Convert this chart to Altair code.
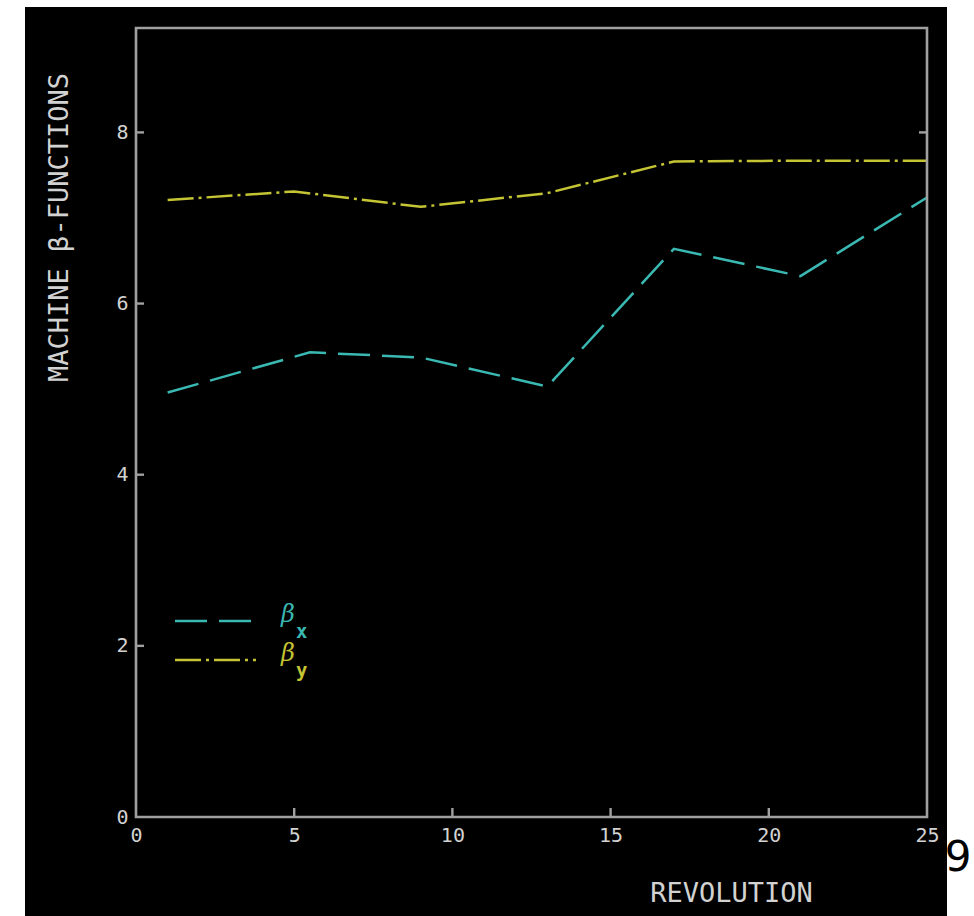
import altair as alt
import pandas as pd

# ---- data ----
rev_x = [1, 5.5, 9, 13, 17, 21, 25]
beta_x = [4.96, 5.43, 5.37, 5.03, 6.64, 6.32, 7.24]
rev_y = [1, 5, 9, 13, 17, 21, 25]
beta_y = [7.21, 7.31, 7.13, 7.29, 7.66, 7.67, 7.67]
x_ticks = [0, 5, 10, 15, 20, 25]
y_ticks = [0, 2, 4, 6, 8]
series = ["βx", "βy"]
colors = ["#3ab8b2", "#c4c434"]
dashes = [[32, 12], [26, 5, 3, 5]]

W, H = 791, 789
FRAME = "#a0a0a0"
TXT = "#d2d2d2"
FONT = "DejaVu Sans Mono"

df = pd.DataFrame(
    {"rev": rev_x + rev_y,
     "value": beta_x + beta_y,
     "series": [series[0]] * len(rev_x) + [series[1]] * len(rev_y)}
)
legend_df = pd.DataFrame({"series": series})
one = pd.DataFrame({"a": [0]})

xscale = alt.Scale(domain=[0, 25], nice=False, zero=False)
yscale = alt.Scale(domain=[0, 9.22], nice=False, zero=False)
cscale = alt.Scale(domain=series, range=colors)
dscale = alt.Scale(domain=series, range=dashes)

xaxis = alt.Axis(values=x_ticks, title="REVOLUTION", domain=False, ticks=False,
                 grid=False, labelFont=FONT, labelFontSize=20, labelColor=TXT,
                 labelPadding=8, labelBaseline="top", labelFlush=False,
                 titleFont=FONT, titleFontSize=27, titleFontWeight="normal",
                 titleColor=TXT, titleX=595, titleY=76, titleAlign="center",
                 titleBaseline="middle", zindex=2)
yaxis = alt.Axis(values=y_ticks, title="MACHINE β-FUNCTIONS", domain=False,
                 ticks=False, grid=False, labelFont=FONT, labelFontSize=20,
                 labelColor=TXT, labelPadding=8, labelFlush=False,
                 titleFont=FONT, titleFontSize=27, titleFontWeight="normal",
                 titleColor=TXT, titleAngle=270, titleX=-77, titleY=199,
                 titleAlign="center", titleBaseline="middle", zindex=2)

# black panel behind everything
panel = alt.Chart(one).mark_rect(color="black").encode(
    x=alt.value(-111), x2=alt.value(811), y=alt.value(-21), y2=alt.value(890)
)

lines = alt.Chart(df).mark_line(strokeWidth=2.5).encode(
    x=alt.X("rev:Q", scale=xscale, axis=xaxis),
    y=alt.Y("value:Q", scale=yscale, axis=yaxis),
    color=alt.Color("series:N", scale=cscale, legend=None),
    strokeDash=alt.StrokeDash("series:N", scale=dscale, legend=None),
    detail="series:N",
)

frame = alt.Chart(one).mark_rect(fillOpacity=0, stroke=FRAME, strokeWidth=2.6).encode(
    x=alt.value(0), x2=alt.value(W), y=alt.value(0), y2=alt.value(H)
)

ytick_df = pd.DataFrame({"value": y_ticks[1:]})
yticks = alt.Chart(ytick_df).mark_rule(color=FRAME, strokeWidth=2.4).encode(
    y=alt.Y("value:Q", scale=yscale, axis=yaxis), x=alt.value(0), x2=alt.value(8)
)
ytick_r_df = pd.DataFrame({"value": [8]})
yticks_r = alt.Chart(ytick_r_df).mark_rule(color=FRAME, strokeWidth=2.4).encode(
    y=alt.Y("value:Q", scale=yscale, axis=yaxis), x=alt.value(W - 8), x2=alt.value(W)
)
xtick_df = pd.DataFrame({"rev": x_ticks[1:-1]})
xticks = alt.Chart(xtick_df).mark_rule(color=FRAME, strokeWidth=2.4).encode(
    x=alt.X("rev:Q", scale=xscale, axis=xaxis), y=alt.value(H - 9), y2=alt.value(H)
)

legend_layers = []
for i, s in enumerate(series):
    base = alt.Chart(legend_df).transform_filter(alt.datum.series == s)
    ly = 593 + i * 39
    legend_layers.append(
        base.mark_rule(strokeWidth=2.5).encode(
            x=alt.value(39), x2=alt.value(120), y=alt.value(ly),
            color=alt.Color("series:N", scale=cscale, legend=None),
            strokeDash=alt.StrokeDash("series:N", scale=dscale, legend=None),
        )
    )
    legend_layers.append(
        base.mark_text(text="β", font="DejaVu Serif", fontStyle="italic", fontSize=24,
                       align="left", baseline="middle").encode(
            x=alt.value(145), y=alt.value(ly - 6),
            color=alt.Color("series:N", scale=cscale, legend=None),
        )
    )
    legend_layers.append(
        base.mark_text(text=s[-1], font=FONT, fontSize=19, fontWeight="bold",
                       align="left", baseline="middle").encode(
            x=alt.value(160), y=alt.value(ly + 11),
            color=alt.Color("series:N", scale=cscale, legend=None),
        )
    )

page_no = alt.Chart(one).mark_text(text="9", font="DejaVu Sans", fontSize=42,
                                   color="black", align="center",
                                   baseline="middle").encode(
    x=alt.value(822), y=alt.value(830)
)

chart = alt.layer(panel, lines, frame, yticks, yticks_r, xticks, *legend_layers, page_no).properties(
    width=W, height=H,
    padding={"left": 136, "top": 28, "right": 47, "bottom": 99},
    autosize="none",
    background="white",
).configure_view(stroke=None)

chart.save("out.html", embed_options={"renderer": "svg", "actions": False})
